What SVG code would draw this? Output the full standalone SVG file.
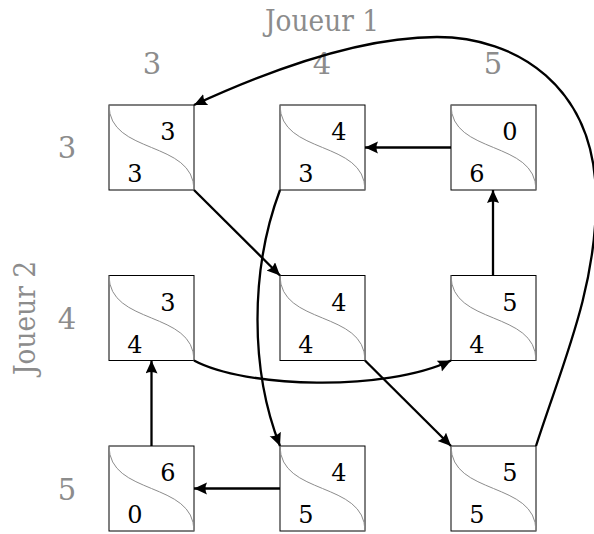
<svg xmlns="http://www.w3.org/2000/svg" width="594" height="534" viewBox="0 0 594 534">
<style>
.box{fill:#fff;stroke:#000;stroke-width:1}
.s{fill:none;stroke:#8c8c8c;stroke-width:1}
.n{font-family:'DejaVu Serif','Liberation Serif',serif;font-size:24px;fill:#000;text-anchor:middle}
.g{font-family:'DejaVu Serif','Liberation Serif',serif;font-size:29px;fill:#8c8c8c;text-anchor:middle}
.e{fill:none;stroke:#000;stroke-width:2.3;marker-end:url(#ah)}
</style>
<defs>
<marker id="ah" markerUnits="userSpaceOnUse" markerWidth="15" markerHeight="13" refX="13" refY="6" orient="auto">
<path d="M0,0 Q3,6 0,12 L13,6 z" fill="#000"/>
</marker>
<path id="sc" class="s" d="M0,0 C0,50 85,35 85,85"/>
</defs>
<rect width="594" height="534" fill="#fff"/>
<g id="labels">
<text class="g" x="322" y="31" textLength="114" lengthAdjust="spacingAndGlyphs">Joueur 1</text>
<text class="g" x="152" y="74">3</text>
<text class="g" x="322" y="74">4</text>
<text class="g" x="493" y="74">5</text>
<text class="g" x="67" y="158">3</text>
<text class="g" x="67" y="329">4</text>
<text class="g" x="67" y="499.5">5</text>
<text class="g" transform="translate(35,318) rotate(-90)" textLength="114" lengthAdjust="spacingAndGlyphs">Joueur 2</text>
</g>
<g id="n00" transform="translate(109,105)"><rect class="box" width="85" height="85"/><use href="#sc"/><text class="n" x="59" y="35">3</text><text class="n" x="26" y="77">3</text></g>
<g id="n01" transform="translate(280,105)"><rect class="box" width="85" height="85"/><use href="#sc"/><text class="n" x="59" y="35">4</text><text class="n" x="26" y="77">3</text></g>
<g id="n02" transform="translate(451,105)"><rect class="box" width="85" height="85"/><use href="#sc"/><text class="n" x="59" y="35">0</text><text class="n" x="26" y="77">6</text></g>
<g id="n10" transform="translate(109,275.5)"><rect class="box" width="85" height="85"/><use href="#sc"/><text class="n" x="59" y="35">3</text><text class="n" x="26" y="77">4</text></g>
<g id="n11" transform="translate(280,275.5)"><rect class="box" width="85" height="85"/><use href="#sc"/><text class="n" x="59" y="35">4</text><text class="n" x="26" y="77">4</text></g>
<g id="n12" transform="translate(451,275.5)"><rect class="box" width="85" height="85"/><use href="#sc"/><text class="n" x="59" y="35">5</text><text class="n" x="26" y="77">4</text></g>
<g id="n20" transform="translate(109,446)"><rect class="box" width="85" height="85"/><use href="#sc"/><text class="n" x="59" y="35">6</text><text class="n" x="26" y="77">0</text></g>
<g id="n21" transform="translate(280,446)"><rect class="box" width="85" height="85"/><use href="#sc"/><text class="n" x="59" y="35">4</text><text class="n" x="26" y="77">5</text></g>
<g id="n22" transform="translate(451,446)"><rect class="box" width="85" height="85"/><use href="#sc"/><text class="n" x="59" y="35">5</text><text class="n" x="26" y="77">5</text></g>
<g id="connectors">
<path class="e" d="M194,190 L280,275.5"/>
<path class="e" d="M451,147.5 L365,147.5"/>
<path class="e" d="M493,275.5 L493,190"/>
<path class="e" d="M365,360.5 L451,446"/>
<path class="e" d="M280,488.5 L194,488.5"/>
<path class="e" d="M151.5,446 L151.5,360.5"/>
<path class="e" d="M280,190 C250,270 250,370 280,446"/>
<path class="e" d="M194,360.5 C245,388 385,392 451,360.5"/>
<path class="e" d="M536,446 C562,365 596,290 596,200 C596,85 515,37 437,37 C360,37 270,70 194,105"/>
</g>
</svg>
